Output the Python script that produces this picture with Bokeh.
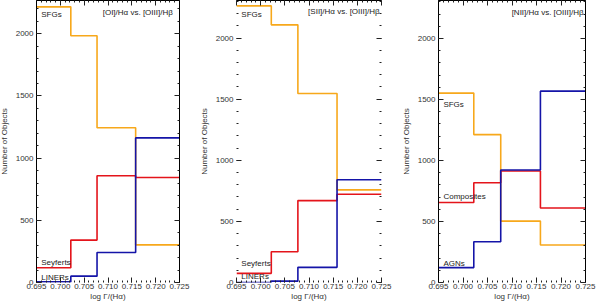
from bokeh.plotting import figure
from bokeh.layouts import row
from bokeh.models import Range1d, LinearAxis, FixedTicker, Label, PrintfTickFormatter, CustomJSTickFormatter
from bokeh.embed import file_html
from bokeh.resources import INLINE

# ---- data ----
bin_edges = [0.695, 0.7022, 0.7077, 0.7158, 0.725]
x_ticks = [0.695, 0.700, 0.705, 0.710, 0.715, 0.720, 0.725]
y_ticks = [0, 500, 1000, 1500, 2000]

titles = ["[OI]/H\u03b1 vs. [OIII]/H\u03b2",
          "[SII]/H\u03b1 vs. [OIII]/H\u03b2",
          "[NII]/H\u03b1 vs. [OIII]/H\u03b2"]

p1_sfg = [2217, 1984, 1244, 303]
p1_sey = [119, 341, 859, 845]
p1_lin = [5, 51, 241, 1163]

p2_sfg = [2263, 2108, 1546, 758]
p2_sey = [75, 251, 670, 722]
p2_lin = [0, 11, 124, 841]

p3_sfg = [1552, 1212, 503, 307]
p3_comp = [655, 818, 914, 611]
p3_agn = [122, 334, 922, 1568]

ORANGE = "#F7A81B"
RED = "#E4141B"
BLUE = "#1414A8"
FONT = "Liberation Sans"

minor_x = [0.695 + 0.001 * i for i in range(31)]
minor_y = [100 * i for i in range(24)]


def make_panel(width, left, right, ymax, frame_sides, series, labels, title, title_xy):
    p = figure(width=width, height=307, x_range=Range1d(0.695, 0.725),
               y_range=Range1d(0, ymax), output_backend="svg", toolbar_location=None,
               min_border_left=left, min_border_right=right,
               min_border_top=4, min_border_bottom=20)
    p.xgrid.visible = False
    p.ygrid.visible = False
    p.outline_line_color = None
    p.background_fill_color = "white"
    p.border_fill_color = "white"

    side_color = "black" if frame_sides else None
    extra_r = LinearAxis()
    extra_t = LinearAxis()
    p.add_layout(extra_r, "right")
    p.add_layout(extra_t, "above")

    for ax in p.xaxis:
        ax.ticker = FixedTicker(ticks=x_ticks, minor_ticks=minor_x)
    for ax in p.yaxis:
        ax.ticker = FixedTicker(ticks=y_ticks, minor_ticks=minor_y)
    for ax in list(p.xaxis) + list(p.yaxis):
        ax.major_tick_in = 5
        ax.major_tick_out = 0
        ax.minor_tick_in = 2
        ax.minor_tick_out = 0
        ax.major_tick_line_color = "#222222"
        ax.minor_tick_line_color = "#222222"
        ax.major_label_text_font = FONT
        ax.major_label_text_font_size = "8px"
        ax.major_label_text_color = "#333333"
        ax.axis_label_text_font = FONT
        ax.axis_label_text_font_size = "8px"
        ax.axis_label_text_font_style = "normal"
        ax.axis_label_text_color = "#333333"

    for ax in (extra_r, extra_t):
        ax.formatter = CustomJSTickFormatter(code="return ''")
        ax.major_label_standoff = 0
        ax.axis_label = None

    xb = p.below[0]
    xb.axis_line_color = None
    xb.formatter = PrintfTickFormatter(format="%.3f")
    xb.major_label_standoff = 1
    xb.axis_label = "log \u0393/(H\u03b1)"
    xb.axis_label_standoff = 0

    yl = p.left[0]
    yl.axis_line_color = side_color
    yl.major_label_standoff = 3
    yl.axis_label = "Number of Objects"
    yl.axis_label_standoff = 4

    extra_r.axis_line_color = side_color
    extra_t.axis_line_color = "black"

    for vals, color in series:
        p.step(x=bin_edges, y=vals + [vals[-1]], mode="after",
               line_color=color, line_width=1.6)

    for text, x, y in labels:
        p.add_layout(Label(x=x, y=y, text=text, text_font=FONT, text_font_size="8px",
                           text_baseline="middle", text_color="#222222"))
    p.add_layout(Label(x=title_xy[0], y=title_xy[1], text=title, text_font=FONT,
                       text_font_size="8px", text_align="right", text_baseline="middle",
                       text_color="#222222"))
    return p


p1 = make_panel(200, 34, 17, 2268, True,
                [(p1_sfg, ORANGE), (p1_sey, RED), (p1_lin, BLUE)],
                [("SFGs", 0.696, 2154), ("Seyferts", 0.696, 163), ("LINERs", 0.696, 43)],
                titles[0], (0.7236, 2171))
p2 = make_panel(200, 38, 15, 2307, False,
                [(p2_sfg, ORANGE), (p2_sey, RED), (p2_lin, BLUE)],
                [("SFGs", 0.696, 2191), ("Seyferts", 0.696, 158), ("LINERs", 0.696, 50)],
                titles[1], (0.7246, 2216))
p3 = make_panel(200, 42, 11, 2311, True,
                [(p3_sfg, ORANGE), (p3_comp, RED), (p3_agn, BLUE)],
                [("SFGs", 0.696, 1458), ("Composites", 0.696, 707), ("AGNs", 0.696, 157)],
                titles[2], (0.7246, 2212))

layout = row(p1, p2, p3, margin=(-4, 0, 0, -4))
open("out.html", "w").write(file_html(layout, INLINE))
